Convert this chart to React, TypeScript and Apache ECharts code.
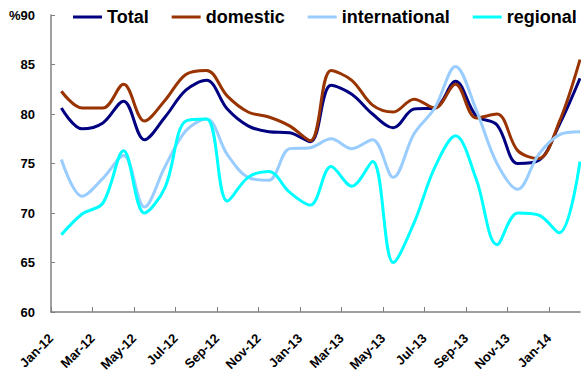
import React, { useEffect, useRef } from "react";
import * as echarts from "echarts";

const categories = [
  "Jan-12", "Feb-12", "Mar-12", "Apr-12", "May-12", "Jun-12", "Jul-12", "Aug-12", "Sep-12", "Oct-12", "Nov-12", "Dec-12",
  "Jan-13", "Feb-13", "Mar-13", "Apr-13", "May-13", "Jun-13", "Jul-13", "Aug-13", "Sep-13", "Oct-13", "Nov-13", "Dec-13",
  "Jan-14", "Feb-14",
];

const total = [80.6, 78.5, 79.1, 81.3, 77.4, 79.7, 82.4, 83.4, 80.5, 78.8, 78.2, 78.1, 77.2, 82.9, 82.0, 80.0, 78.6, 80.5, 80.6, 83.3, 79.8, 78.9, 75.0, 75.3, 78.9, 83.6];
const domestic = [82.3, 80.6, 80.6, 83.0, 79.3, 81.4, 84.0, 84.4, 81.8, 80.2, 79.7, 78.8, 77.3, 84.4, 83.4, 80.9, 80.2, 81.5, 80.6, 83.0, 79.6, 80.0, 76.3, 75.5, 79.2, 85.5];
const international = [75.4, 71.7, 73.5, 75.8, 70.6, 74.7, 78.3, 79.5, 75.9, 73.6, 73.3, 76.5, 76.6, 77.5, 76.5, 77.4, 73.6, 78.0, 80.6, 84.8, 80.4, 75.0, 72.4, 75.9, 77.9, 78.2];
const regional = [67.8, 69.9, 71.0, 76.3, 70.0, 72.6, 79.3, 79.5, 71.2, 73.6, 74.2, 72.1, 70.8, 74.7, 72.7, 75.2, 65.0, 69.0, 74.6, 77.8, 73.4, 66.8, 70.0, 69.8, 68.0, 75.2];

const seriesDefs = [
  { name: "Total", data: total, color: "#000080" },
  { name: "domestic", data: domestic, color: "#993300" },
  { name: "international", data: international, color: "#99CCFF" },
  { name: "regional", data: regional, color: "#00FFFF" },
];

const FONT = "'Liberation Sans', Arial, sans-serif";

export default function App() {
  const ref = useRef<HTMLDivElement>(null);
  useEffect(() => {
    if (!ref.current) return;
    const chart = echarts.init(ref.current, undefined, { renderer: "svg" });
    chart.setOption({
      animation: false,
      backgroundColor: "#ffffff",
      legend: {
        left: 73,
        top: 8,
        width: 508,
        padding: 0,
        icon: "rect",
        itemWidth: 29,
        itemHeight: 3,
        itemGap: 23,
        textStyle: { fontFamily: FONT, fontWeight: "bold", fontSize: 18, color: "#000" },
        data: seriesDefs.map((s) => s.name),
      },
      grid: { left: 51, right: 1, top: 15, bottom: 62, containLabel: false },
      xAxis: {
        type: "value",
        min: 0,
        max: categories.length - 0.5,
        interval: 2,
        splitLine: { show: false },
        axisLine: { show: true, lineStyle: { color: "#808080", width: 1.5 } },
        axisTick: { show: true, inside: true, length: 5, lineStyle: { color: "#808080", width: 1 } },
        axisLabel: {
          rotate: 45,
          margin: 24,
          fontFamily: FONT,
          fontWeight: "bold",
          fontSize: 13,
          color: "#000",
          showMaxLabel: false,
          formatter: (v: number) => (Number.isInteger(v) && categories[v] ? categories[v] : ""),
        },
      },
      yAxis: {
        type: "value",
        min: 60,
        max: 90,
        interval: 5,
        splitLine: { show: false },
        axisLine: { show: true, lineStyle: { color: "#808080", width: 1.5 } },
        axisTick: { show: true, inside: true, length: 4, lineStyle: { color: "#808080", width: 1 } },
        axisLabel: {
          margin: 16,
          fontFamily: FONT,
          fontWeight: "bold",
          fontSize: 13,
          color: "#000",
          formatter: (v: number) => (v === 90 ? "%90" : String(v)),
        },
      },
      series: seriesDefs.map((s) => ({
        name: s.name,
        type: "line",
        smooth: 0.35,
        symbol: "none",
        showSymbol: false,
        color: s.color,
        lineStyle: { color: s.color, width: 3 },
        itemStyle: { color: s.color },
        data: s.data.map((v, i) => [i + 0.5, v]),
      })),
    });
    return () => chart.dispose();
  }, []);
  return <div ref={ref} style={{ position: "fixed", left: 0, top: 0, width: 581, height: 374 }} />;
}
